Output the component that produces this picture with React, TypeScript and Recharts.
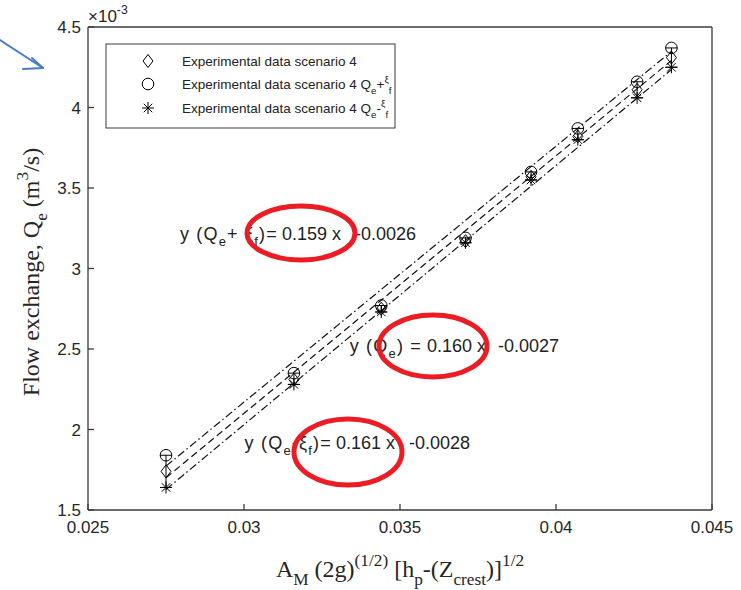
import React from "react";
import {
  ComposedChart,
  Scatter,
  Line,
  XAxis,
  YAxis,
  ErrorBar,
} from "recharts";

// Measured points (y in units of 1e-3 m^3/s)
const xValues = [0.0275, 0.0316, 0.0344, 0.0371, 0.0392, 0.0407, 0.0426, 0.0437];
const qeValues = [1.74, 2.31, 2.75, 3.17, 3.57, 3.82, 4.11, 4.31];
const qePlusValues = [1.84, 2.35, 2.77, 3.19, 3.6, 3.87, 4.16, 4.37];
const qeMinusValues = [1.64, 2.28, 2.73, 3.16, 3.55, 3.8, 4.06, 4.25];

// Linear fits y = a x + b (real units), order: Qe+xi, Qe, Qe-xi
const fitSlopes = [0.159, 0.16, 0.161];
const fitIntercepts = [-0.0026, -0.0027, -0.0028];
const fitSlopeLabels = ["0.159", "0.160", "0.161"];
const fitInterceptLabels = ["-0.0026", "-0.0027", "-0.0028"];

const xTicks = [0.025, 0.03, 0.035, 0.04, 0.045];
const yTicks = [1.5, 2, 2.5, 3, 3.5, 4, 4.5];

const AXIS = "#3a3a3a";
const SANS = "'Liberation Sans', Arial, Helvetica, sans-serif";
const SERIF = "'Liberation Serif', 'Times New Roman', serif";

const qeData = xValues.map((x, i) => ({
  x,
  y: qeValues[i],
  err: [qeValues[i] - qeMinusValues[i], qePlusValues[i] - qeValues[i]],
}));
const plusData = xValues.map((x, i) => ({ x, y: qePlusValues[i] }));
const minusData = xValues.map((x, i) => ({ x, y: qeMinusValues[i] }));

const xFirst = xValues[0];
const xLast = xValues[xValues.length - 1];
const fitLines = fitSlopes.map((a, i) => [
  { x: xFirst, y: (a * xFirst + fitIntercepts[i]) * 1000 },
  { x: xLast, y: (a * xLast + fitIntercepts[i]) * 1000 },
]);

const DiamondMark = ({ cx, cy }: any) => (
  <path
    d={`M${cx},${cy - 6.5} L${cx + 5},${cy} L${cx},${cy + 6.5} L${cx - 5},${cy} Z`}
    fill="none"
    stroke="#000"
    strokeWidth={1}
  />
);

const CircleMark = ({ cx, cy }: any) => (
  <circle cx={cx} cy={cy} r={5.8} fill="none" stroke="#000" strokeWidth={1} />
);

const StarMark = ({ cx, cy }: any) => {
  const r = 6;
  const d = r * 0.7071;
  return (
    <g stroke="#000" strokeWidth={1}>
      <line x1={cx - r} y1={cy} x2={cx + r} y2={cy} />
      <line x1={cx} y1={cy - r} x2={cx} y2={cy + r} />
      <line x1={cx - d} y1={cy - d} x2={cx + d} y2={cy + d} />
      <line x1={cx - d} y1={cy + d} x2={cx + d} y2={cy - d} />
    </g>
  );
};

type Part = { t: string; s?: "sub" | "sup" };

// builds tspans with sub/superscripts, resetting the baseline as it goes
function rich(parts: Part[], size: number) {
  let cur = 0;
  return parts.map((p, i) => {
    const target = p.s === "sub" ? size * 0.35 : p.s === "sup" ? -size * 0.45 : 0;
    const dy = target - cur;
    cur = target;
    const fs = p.s ? size * 0.72 : size;
    return (
      <tspan key={i} dy={dy} fontSize={fs}>
        {p.t}
      </tspan>
    );
  });
}

// left-hand sides of the fit equations
const eqLeft: Part[][] = [
  [{ t: "y (Q" }, { t: "e", s: "sub" }, { t: "+ ξ" }, { t: "f", s: "sub" }, { t: ")=" }],
  [{ t: "y (Q" }, { t: "e", s: "sub" }, { t: ") =" }],
  [{ t: "y (Q" }, { t: "e", s: "sub" }, { t: "-ξ" }, { t: "f", s: "sub" }, { t: ")=" }],
];
// [lhs right edge, slope x, intercept x, baseline]
const eqPos = [
  [278, 282, 355, 240],
  [422, 427, 498, 352],
  [332, 336, 409, 449],
];

function Overlay() {
  return (
    <svg
      width={741}
      height={590}
      style={{ position: "absolute", left: 0, top: 0, pointerEvents: "none" }}
    >
      {/* exponent label */}
      <text x={88} y={22} fontFamily={SANS} fontSize={17} fill="#262626">
        {rich([{ t: "×10" }, { t: "-3", s: "sup" }], 17)}
      </text>

      {/* legend */}
      <rect x={106} y={44} width={289} height={84} fill="#fff" stroke={AXIS} strokeWidth={1} />
      <DiamondMark cx={148} cy={61} />
      <CircleMark cx={148} cy={84} />
      <StarMark cx={148} cy={108} />
      <g fontFamily={SANS} fontSize={13.5} fill="#222">
        <text x={182} y={66}>Experimental data scenario 4</text>
        <text x={182} y={89}>
          {rich(
            [
              { t: "Experimental data scenario 4 Q" },
              { t: "e", s: "sub" },
              { t: "+" },
              { t: "ξ", s: "sup" },
              { t: "f", s: "sub" },
            ],
            13.5
          )}
        </text>
        <text x={182} y={113}>
          {rich(
            [
              { t: "Experimental data scenario 4 Q" },
              { t: "e", s: "sub" },
              { t: "-" },
              { t: "ξ", s: "sup" },
              { t: "f", s: "sub" },
            ],
            13.5
          )}
        </text>
      </g>

      {/* fit equations */}
      <g fontFamily={SANS} fontSize={18} fill="#222">
        {eqPos.map(([rx, sx, ix, by], i) => (
          <g key={i}>
            <text x={rx} y={by} textAnchor="end" letterSpacing={1.2}>
              {rich(eqLeft[i], 18)}
            </text>
            <text x={sx} y={by}>{fitSlopeLabels[i]} x</text>
            <text x={ix} y={by}>{fitInterceptLabels[i]}</text>
          </g>
        ))}
      </g>

      {/* highlight rings */}
      <g fill="none" stroke="#ec1c24" strokeWidth={5}>
        <ellipse cx={301} cy={233} rx={54} ry={27} />
        <ellipse cx={433} cy={346} rx={54} ry={31} />
        <ellipse cx={348} cy={452} rx={54} ry={33} />
      </g>

      {/* pointer arrow */}
      <g stroke="#4a7cc7" strokeWidth={2} fill="none" strokeLinecap="round">
        <line x1={0} y1={40} x2={43} y2={68} />
        <line x1={43} y1={68} x2={32} y2={58} />
        <line x1={43} y1={68} x2={23} y2={69} />
      </g>

      {/* axis titles */}
      <text
        transform="translate(39,272) rotate(-90)"
        textAnchor="middle"
        fontFamily={SERIF}
        fontSize={24}
        fill="#262626"
      >
        {rich(
          [
            { t: "Flow exchange, Q" },
            { t: "e", s: "sub" },
            { t: " (m" },
            { t: "3", s: "sup" },
            { t: "/s)" },
          ],
          24
        )}
      </text>
      <text x={400} y={577} textAnchor="middle" fontFamily={SERIF} fontSize={24} fill="#262626">
        {rich(
          [
            { t: "A" },
            { t: "M", s: "sub" },
            { t: " (2g)" },
            { t: "(1/2)", s: "sup" },
            { t: " [h" },
            { t: "p", s: "sub" },
            { t: "-(Z" },
            { t: "crest", s: "sub" },
            { t: ")]" },
            { t: "1/2", s: "sup" },
          ],
          24
        )}
      </text>
    </svg>
  );
}

const tickStyle = { fontFamily: SANS, fontSize: 17, fill: "#262626" };
const fitDash = ["8 3 1.5 3", "7 4", "8 3 1.5 3"];

export default function App() {
  return (
    <div
      style={{
        position: "fixed",
        left: 0,
        top: 0,
        width: 741,
        height: 590,
        background: "#fff",
      }}
    >
      <ComposedChart
        width={741}
        height={590}
        margin={{ top: 26, right: 28, bottom: 0, left: 0 }}
      >
        <XAxis
          dataKey="x"
          type="number"
          domain={[0.025, 0.045]}
          ticks={xTicks}
          height={80}
          stroke={AXIS}
          strokeWidth={1.3}
          tickSize={-6}
          tickMargin={17}
          tick={tickStyle}
          tickFormatter={(v: number) => String(v)}
        />
        <XAxis
          xAxisId="top"
          orientation="top"
          type="number"
          domain={[0.025, 0.045]}
          ticks={xTicks}
          height={1}
          stroke={AXIS}
          strokeWidth={1.3}
          tickSize={-6}
          tickFormatter={() => ""}
        />
        <YAxis
          dataKey="y"
          type="number"
          domain={[1.5, 4.5]}
          ticks={yTicks}
          width={88}
          stroke={AXIS}
          strokeWidth={1.3}
          tickSize={-6}
          tickMargin={13}
          tick={tickStyle}
          tickFormatter={(v: number) => String(v)}
        />
        <YAxis
          yAxisId="right"
          orientation="right"
          type="number"
          domain={[1.5, 4.5]}
          ticks={yTicks}
          width={1}
          stroke={AXIS}
          strokeWidth={1.3}
          tickSize={-6}
          tickFormatter={() => ""}
        />

        {fitLines.map((pts, i) => (
          <Line
            key={i}
            data={pts}
            dataKey="y"
            stroke="#111"
            strokeWidth={1.2}
            strokeDasharray={fitDash[i]}
            dot={false}
            activeDot={false}
            isAnimationActive={false}
          />
        ))}

        <Scatter data={qeData} dataKey="y" shape={DiamondMark} isAnimationActive={false}>
          <ErrorBar dataKey="err" direction="y" width={6} stroke="#000" strokeWidth={1} />
        </Scatter>
        <Scatter data={plusData} dataKey="y" shape={CircleMark} isAnimationActive={false} />
        <Scatter data={minusData} dataKey="y" shape={StarMark} isAnimationActive={false} />
      </ComposedChart>
      <Overlay />
    </div>
  );
}
